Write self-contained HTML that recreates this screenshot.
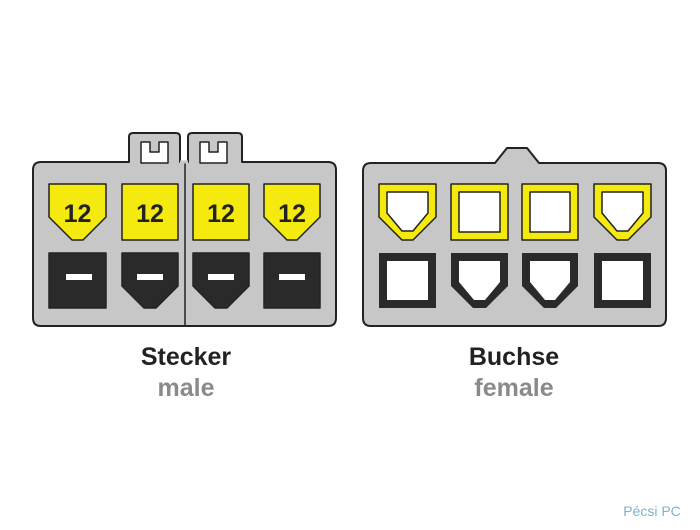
<!DOCTYPE html><html><head><style>html,body{margin:0;padding:0;background:#fff;}svg{display:block}</style></head><body>
<svg width="700" height="530" viewBox="0 0 700 530" xmlns="http://www.w3.org/2000/svg">
<g stroke="#222" stroke-width="2" stroke-linejoin="round">
<path d="M41 162 H129 V137 Q129 133 133 133 H176 Q180 133 180 137 V162 H188 V137 Q188 133 192 133 H238 Q242 133 242 137 V162 H328 Q336 162 336 170 V318 Q336 326 328 326 H41 Q33 326 33 318 V170 Q33 162 41 162 Z" fill="#c7c7c7"/>
<line x1="185" y1="162" x2="185" y2="326" stroke-width="1.5"/>
<line x1="180" y1="162" x2="188" y2="162" stroke="#c7c7c7" stroke-width="3"/>
<path d="M141 142 H150 V152 H159 V142 H168 V163 H141 Z" fill="#fff" stroke-width="1.5"/>
<path d="M200 142 H209 V152 H218 V142 H227 V163 H200 Z" fill="#fff" stroke-width="1.5"/>
<path d="M49 184 H106 V217 L83 240 H72 L49 217 Z" fill="#f5ea0f" stroke-width="1.5"/>
<rect x="122" y="184" width="56" height="56" fill="#f5ea0f" stroke-width="1.5"/>
<rect x="193" y="184" width="56" height="56" fill="#f5ea0f" stroke-width="1.5"/>
<path d="M264 184 H320 V217 L297 240 H287 L264 217 Z" fill="#f5ea0f" stroke-width="1.5"/>
<rect x="49" y="253" width="57" height="55" fill="#2a2a2a" stroke-width="1.5"/>
<path d="M122 253 H178 V286 L156 308 H144 L122 286 Z" fill="#2a2a2a" stroke-width="1.5"/>
<path d="M193 253 H249 V286 L227 308 H215 L193 286 Z" fill="#2a2a2a" stroke-width="1.5"/>
<rect x="264" y="253" width="56" height="55" fill="#2a2a2a" stroke-width="1.5"/>
<path d="M371 163 H495 L507 148 H527 L539 163 H658 Q666 163 666 171 V318 Q666 326 658 326 H371 Q363 326 363 318 V171 Q363 163 371 163 Z" fill="#c7c7c7"/>
<g stroke-width="1.5">
<path d="M379 184 H436 V217 L413 240 H402 L379 217 Z" fill="#f5ea0f"/>
<path d="M387 192 H428 V213 L413 231 H402 L387 213 Z" fill="#fff"/>
<rect x="451" y="184" width="57" height="56" fill="#f5ea0f"/>
<rect x="459" y="192" width="41" height="40" fill="#fff"/>
<rect x="522" y="184" width="56" height="56" fill="#f5ea0f"/>
<rect x="530" y="192" width="40" height="40" fill="#fff"/>
<path d="M594 184 H651 V217 L628 240 H617 L594 217 Z" fill="#f5ea0f"/>
<path d="M602 192 H643 V213 L628 231 H617 L602 213 Z" fill="#fff"/>
</g>
<g stroke="none">
<rect x="379" y="253" width="57" height="55" fill="#2a2a2a"/>
<rect x="387" y="261" width="41" height="39" fill="#fff"/>
<path d="M451 253 H508 V286 L486 308 H473 L451 286 Z" fill="#2a2a2a"/>
<path d="M459 261 H500 V282 L485 300 H474 L459 282 Z" fill="#fff"/>
<path d="M522 253 H578 V286 L556 308 H544 L522 286 Z" fill="#2a2a2a"/>
<path d="M530 261 H570 V282 L555 300 H545 L530 282 Z" fill="#fff"/>
<rect x="594" y="253" width="57" height="55" fill="#2a2a2a"/>
<rect x="602" y="261" width="41" height="39" fill="#fff"/>
</g>
</g>
<g font-family="Liberation Sans, sans-serif" font-weight="bold" text-anchor="middle">
<g font-size="25" fill="#222">
<text x="77.5" y="222">12</text><text x="150" y="222">12</text><text x="221" y="222">12</text><text x="292" y="222">12</text>
</g>
<g fill="#fff">
<rect x="66" y="274" width="26" height="6"/><rect x="137" y="274" width="26" height="6"/><rect x="208" y="274" width="26" height="6"/><rect x="279" y="274" width="26" height="6"/>
</g>
<text x="186" y="365" font-size="25" fill="#222">Stecker</text>
<text x="186" y="396" font-size="25" fill="#8a8a8a">male</text>
<text x="514" y="365" font-size="25" fill="#222">Buchse</text>
<text x="514" y="396" font-size="25" fill="#8a8a8a">female</text>
<text x="652" y="516" font-size="14" font-weight="normal" fill="#7fb2cc">Pécsi PC</text>
</g>
</svg>
</body></html>
